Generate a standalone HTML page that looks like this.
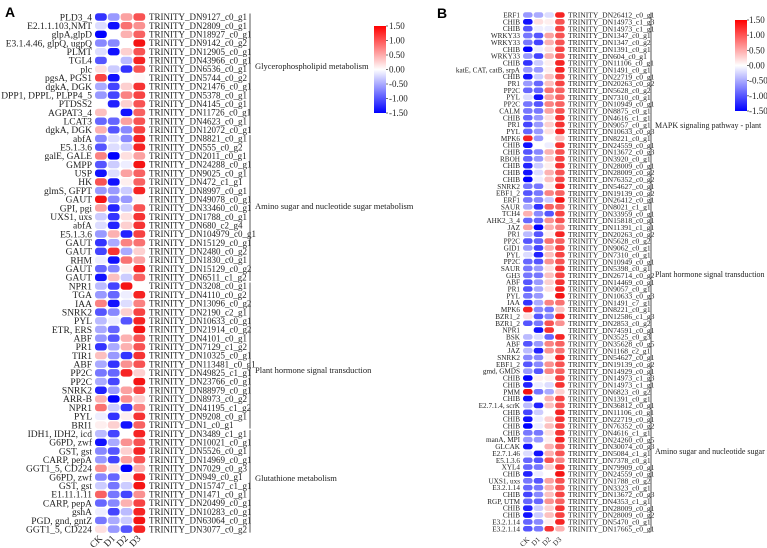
<!DOCTYPE html>
<html><head><meta charset="utf-8">
<style>
html,body{margin:0;padding:0;background:#fff;}
svg{display:block;font-family:"Liberation Serif",serif;}
</style></head>
<body>
<svg id="fig" width="767" height="548" viewBox="0 0 767 548" xmlns="http://www.w3.org/2000/svg">
<defs>
<linearGradient id="cbar" x1="0" y1="1" x2="0" y2="0">
<stop offset="0" stop-color="#0000ff"/><stop offset="0.5" stop-color="#ffffff"/><stop offset="1" stop-color="#ff0000"/>
</linearGradient>
</defs>
<text x="5" y="17" font-family="Liberation Sans,sans-serif" font-weight="bold" font-size="14">A</text>
<text x="437" y="18" font-family="Liberation Sans,sans-serif" font-weight="bold" font-size="14">B</text>
</svg>
<script>
const columns = ["CK","D1","D2","D3"];
const genesA = ["PLD3_4","E2.1.1.103,NMT","glpA,glpD","E3.1.4.46, glpQ, ugpQ","PLMT","TGL4","plc","pgsA, PGS1","dgkA, DGK","DPP1, DPPL, PLPP4_5","PTDSS2","AGPAT3_4","LCAT3","dgkA, DGK","abfA","E5.1.3.6","galE, GALE","GMPP","USP","HK","glmS, GFPT","GAUT","GPI, pgi","UXS1, uxs","abfA","E5.1.3.6","GAUT","GAUT","RHM","GAUT","GAUT","NPR1","TGA","IAA","SNRK2","PYL","ETR, ERS","ABF","PR1","TIR1","ABF","PP2C","PP2C","SNRK2","ARR-B","NPR1","PYL","BRI1","IDH1, IDH2, icd","G6PD, zwf","GST, gst","CARP, pepA","GGT1_5, CD224","G6PD, zwf","GST, gst","E1.11.1.11","CARP, pepA","gshA","PGD, gnd, gntZ","GGT1_5, CD224"];
const idsA = ["DN9127_c0_g1","DN2809_c0_g1","DN18927_c0_g1","DN9142_c0_g2","DN12905_c0_g1","DN43966_c0_g1","DN6536_c0_g1","DN5744_c0_g2","DN21476_c0_g1","DN5378_c0_g1","DN4145_c0_g1","DN11726_c0_g1","DN4623_c0_g1","DN12072_c0_g1","DN8821_c0_g1","DN555_c0_g2","DN2011_c0_g1","DN24288_c0_g1","DN9025_c0_g1","DN472_c1_g1","DN8997_c0_g1","DN49078_c0_g1","DN33460_c0_g1","DN1788_c0_g1","DN680_c2_g4","DN104979_c0_g1","DN15129_c0_g1","DN2480_c0_g2","DN1830_c0_g1","DN15129_c0_g2","DN6511_c1_g2","DN3208_c0_g1","DN4110_c0_g2","DN13096_c0_g2","DN2190_c2_g1","DN10633_c0_g1","DN21914_c0_g2","DN4101_c0_g1","DN7129_c1_g2","DN10325_c0_g1","DN113481_c0_g1","DN49825_c1_g1","DN23766_c0_g1","DN88979_c0_g1","DN8973_c0_g2","DN41195_c1_g2","DN9208_c0_g1","DN1_c0_g1","DN3489_c1_g1","DN10021_c0_g1","DN5526_c0_g1","DN14969_c0_g1","DN7029_c0_g3","DN949_c0_g1","DN15747_c1_g1","DN1471_c0_g1","DN20499_c0_g1","DN10283_c0_g1","DN63064_c0_g1","DN3077_c0_g2"];
const valuesA = [
[-1.2,-0.6,0.6,1.1],[-0.2,-1.4,0.9,0.7],[-1.5,0,0.5,1.0],[-0.7,-0.7,0,1.5],[-0.2,-1.4,0.3,1.1],[-1.0,0,-0.4,1.4],[0.2,-0.3,-1.2,1.1],[1.2,-1.4,0,0.05],[-0.5,-1.1,0.3,1.3],[-0.6,-1.1,0.8,1.2],
[0,-1.3,0.3,1.1],[0.4,0,-1.4,1.0],[-0.9,-0.9,0.6,1.1],[0.5,-1.0,-0.7,1.2],[-0.7,-0.2,-0.7,1.4],[-1.0,-0.2,-0.3,1.4],[0.8,-1.5,0.2,0.6],[-1.0,-0.3,-0.1,1.5],[-1.4,-0.2,0.6,1.0],[1.1,-1.4,0.1,1.0],
[-0.6,-0.6,-0.3,1.4],[1.5,-0.7,-0.6,0.05],[0.6,-1.3,-0.3,1.1],[-0.3,-1.2,0.2,1.3],[-0.2,-1.3,0.3,1.3],[-0.6,0.5,-1.3,1.2],[-1.2,-0.5,0.8,0.9],[-1.1,1.3,-0.5,0.3],[-0.1,-1.4,0.9,0.6],[-0.9,-0.7,0.1,1.4],
[-1.4,0.4,-0.3,1.0],[-0.4,-1.1,1.5,0],[-0.6,-0.9,-0.1,1.4],[0.8,-1.4,-0.2,0.8],[-1.0,-0.7,0.3,1.2],[-0.4,-0.1,-1.0,1.4],[-0.5,-0.9,0,1.5],[-0.6,-1.0,0.5,1.1],[-1.2,-0.5,0.5,1.1],[0.4,-0.6,-1.2,1.3],
[-0.5,-1.2,0.7,1.1],[-0.8,-0.9,1.4,0.3],[-0.5,-1.1,0,1.5],[-1.3,-0.6,0.6,1.2],[0.5,-1.5,0.7,0.3],[0.9,-0.3,-1.2,0.8],[-0.1,-1.2,0.1,1.3],[0.1,0.3,-1.4,1.0],[-0.4,-1.1,0,1.4],[-1.4,-0.5,0.7,1.1],
[-0.7,-1.0,0.3,1.4],[-0.6,-1.1,0.6,1.1],[0.7,0.2,-1.5,0.5],[-0.7,-0.9,0.1,1.4],[-0.3,-0.8,-0.3,1.5],[1.0,-0.8,-1.1,0.7],[-0.9,-0.7,0.5,1.2],[-0.1,-1.1,-0.4,1.4],[-0.8,-0.5,-0.3,1.5],[0.2,-0.6,-1.0,1.4]];
const groupNamesA = ["Glycerophospholipid metabolism","Amino sugar and nucleotide sugar metabolism","Plant hormone signal transduction","Glutathione metabolism"];
const groupStartA = [0,14,31,48];
const groupEndA = [13,30,47,59];

const genesB = ["ERF1","CHIB","CHIB","WRKY33","WRKY33","CHIB","WRKY33","CHIB","katE, CAT, catB, srpA","CHIB","PR1","PP2C","PYL","PP2C","CALM","CHIB","PR1","PYL","MPK6","CHIB","CHIB","RBOH","CHIB","CHIB","CHIB","SNRK2","EBF1_2","ERF1","SAUR","TCH4","AHK2_3_4","JAZ","PR1","PP2C","GID1","PYL","PP2C","SAUR","GH3","ABF","PR1","PYL","IAA","MPK6","BZR1_2","BZR1_2","NPR1","BSK","ABF","JAZ","SNRK2","EBF1_2","gmd, GMDS","CHIB","CHIB","PMM","CHIB","E2.7.1.4, scrK","CHIB","CHIB","CHIB","CHIB","manA, MPI","GLCAK","E2.7.1.46","E5.1.3.6","XYL4","CHIB","UXS1, uxs","E3.2.1.14","CHIB","RGP, UTM","CHIB","CHIB","E3.2.1.14","E3.2.1.14"];
const idsB = ["DN26412_c0_g1","DN14973_c1_g3","DN14973_c1_g1","DN1347_c0_g1","DN1347_c0_g2","DN1391_c0_g1","DN604_c0_g1","DN11106_c0_g1","DN1491_c0_g1","DN22719_c0_g1","DN20263_c0_g2","DN5628_c0_g2","DN7310_c0_g1","DN10949_c0_g1","DN8875_c0_g1","DN4616_c1_g1","DN9057_c0_g1","DN10633_c0_g3","DN8221_c0_g1","DN24559_c0_g1","DN13672_c0_g3","DN3920_c0_g1","DN28009_c0_g1","DN28009_c0_g2","DN76352_c0_g2","DN54627_c0_g1","DN19139_c0_g2","DN26412_c0_g1","DN8021_c1_g1","DN33959_c0_g1","DN15818_c0_g1","DN11391_c1_g1","DN20263_c0_g2","DN5628_c0_g2","DN9062_c0_g1","DN7310_c0_g1","DN10949_c0_g1","DN5398_c0_g1","DN26714_c0_g2","DN14469_c0_g1","DN9057_c0_g1","DN10633_c0_g3","DN1491_c7_g1","DN8221_c0_g1","DN12586_c1_g3","DN2853_c0_g2","DN74591_c0_g1","DN3525_c0_g3","DN35628_c0_g5","DN1168_c2_g1","DN54627_c0_g1","DN19139_c0_g2","DN14929_c0_g1","DN14973_c1_g3","DN14973_c1_g1","DN6823_c0_g2","DN1391_c0_g1","DN36812_c0_g1","DN11106_c0_g1","DN22719_c0_g1","DN76352_c0_g2","DN4616_c1_g1","DN24260_c0_g5","DN30074_c0_g3","DN5084_c1_g1","DN7378_c0_g1","DN79909_c0_g1","DN24559_c0_g1","DN1788_c0_g2","DN3323_c0_g1","DN13672_c0_g3","DN4353_c1_g1","DN28009_c0_g1","DN28009_c0_g2","DN5470_c0_g1","DN17665_c0_g1"];
const valuesB = [
[-0.6,-0.5,-0.2,1.4],[-1.4,0.2,0.1,1.1],[-1.0,-0.1,-0.1,1.2],[-0.8,-1.0,0.6,1.1],[-0.8,-1.1,0.5,1.1],[-1.5,-0.1,0.2,1.2],[-0.6,-1.1,0.5,1.1],[-1.2,-0.3,0.1,1.4],[-0.6,-0.6,0.1,1.4],[-1.4,-0.3,0.4,1.2],
[-0.6,-0.9,0.4,1.2],[-0.9,-0.9,0.9,1.0],[-0.2,-1.4,0.6,1.0],[-0.8,-1.0,0.8,1.0],[-0.8,-0.8,0.6,1.1],[-0.9,-0.6,0.2,1.3],[-1.1,-0.6,0.3,1.3],[-0.9,-0.6,0.2,1.4],[1.4,-0.6,0,0.4],[-1.4,0,-0.1,1.3],
[-1.0,-0.7,0.5,1.1],[-0.9,-0.6,0.3,1.2],[-1.3,-0.3,0.1,1.3],[-1.4,-0.2,0.5,1.1],[-1.5,-0.1,0.4,1.2],[-0.8,-0.8,0.1,1.4],[-1.0,-0.8,0.8,1.0],[-0.8,-0.7,-0.3,1.5],[-0.5,-1.2,1.0,1.0],[0.5,-0.7,-1.0,1.2],
[-0.9,-0.9,0.7,1.1],[0.6,-1.5,0.5,0.8],[-0.4,-1.0,0.1,1.4],[-1.0,-0.9,0.9,1.0],[-0.6,-1.1,0.5,1.2],[-0.2,-1.3,0.4,1.2],[-0.9,-1.0,0.7,1.1],[-0.8,-0.6,0.2,1.3],[-0.8,-0.8,0.4,1.2],[-1.0,-0.6,0.3,1.3],
[-1.0,-0.5,0.2,1.4],[-0.8,-0.6,0,1.5],[-1.2,-0.5,0.8,0.9],[1.4,-0.7,-0.8,0.4],[0.2,-1.0,-0.7,1.4],[-1.0,-0.8,1.1,0.7],[0,-1.4,1.3,0],[-0.4,-0.2,-0.9,1.4],[-1.0,-0.6,0.8,1.0],[-0.4,-1.3,0.7,0.9],
[-0.7,-0.7,0.1,1.4],[-1.0,-0.7,0.7,1.1],[-0.6,-1.0,0.8,1.0],[-1.5,0.1,0.1,1.2],[-1.3,-0.1,-0.2,1.3],[1.5,-0.8,-0.5,0.3],[-1.4,0,0.5,1.2],[-0.4,-1.3,0.4,1.1],[-1.1,-0.3,0,1.4],[-1.4,-0.1,0.3,1.3],
[-1.5,-0.1,0.4,1.2],[-0.8,-0.8,0.2,1.3],[-0.6,-0.6,0.1,1.4],[-1.4,0,0.5,1.1],[-0.2,-1.4,0.5,1.1],[-0.9,-1.0,1.1,0.8],[-0.9,-0.8,0.3,1.3],[-1.3,-0.1,0,1.5],[-0.8,-1.0,0.6,1.1],[-0.9,-0.8,0.5,1.1],
[-1.1,-0.7,0.4,1.2],[-0.9,-0.9,0.7,1.0],[-1.3,-0.3,0.3,1.3],[-1.4,-0.3,0.4,1.2],[-0.9,-0.7,0.1,1.4],[-1.0,-0.8,1.3,0.5]];
const groupNamesB = ["MAPK signaling pathway - plant","Plant hormone signal transduction","Amino sugar and nucleotide sugar metabolism"];
const groupStartB = [0,27,51];
const groupEndB = [26,50,75];
const groupLabelYB = [128,277,454];
const groupLabelYA = [69,209,373,481];
const colorTicks = ["1.50","1.00","0.50","0.00","-0.50","-1.00","-1.50"];

const NS = "http://www.w3.org/2000/svg";
const svg = document.getElementById('fig');
function mk(tag, attrs, parent){const e=document.createElementNS(NS,tag);for(const k in attrs)e.setAttribute(k,attrs[k]);(parent||svg).appendChild(e);return e;}
function color(v){
  const t=Math.max(-1.5,Math.min(1.5,v))/1.5;
  let r,g,b;
  if(t>=0){r=Math.round(255-10*t);g=Math.round(255*(1-t)+20*t);b=g;}
  else{const s=-t;r=Math.round(255*(1-s));g=r;b=255;}
  return `rgb(${r},${g},${b})`;
}
function panel(cfg){
  const {genes,ids,values,x0,pitchX,cw,y0,pitchY,ch,labelX,idX,fs,idfs,prefix,colY} = cfg;
  const rowY = i => y0 + i*pitchY;
  const colX = j => x0 + j*pitchX;
  const g = mk('g',{});
  
  
  values.forEach((row,i)=>{
    const lab = mk('text',{x:labelX,y:rowY(i)+fs*0.35,'font-size':fs,'text-anchor':'end',fill:'#222'},g);
    lab.textContent = genes[i];
    
    
    row.forEach((v,j)=>{
      const r = mk('rect',{x:colX(j),y:rowY(i)-ch/2,width:cw,height:ch,rx:Math.min(3,ch/2.2),fill:color(v)},g);
      
      
    });
    const id = mk('text',{x:idX,y:rowY(i)+idfs*0.35,'font-size':idfs,fill:'#222'},g);
    id.textContent = 'TRINITY_'+ids[i];
    
    
  });
  columns.forEach((c,j)=>{
    const cx = colX(j)+cw/2+2, cy = colY;
    const t = mk('text',{x:cx,y:cy,'font-size':fs,'text-anchor':'end',transform:`rotate(-45 ${cx} ${cy})`,fill:'#222'},g);
    t.textContent = c;
    
    
  });
  return {rowY};
}
const A = panel({genes:genesA,ids:idsA,values:valuesA,x0:95,pitchX:12.8,cw:11.8,y0:17,pitchY:8.68,ch:7.4,labelX:92,idX:149,fs:9.5,idfs:9,prefix:'panel-a',colY:539});
const B = panel({genes:genesB,ids:idsB,values:valuesB,x0:523,pitchX:10.7,cw:9.6,y0:15,pitchY:6.85,ch:5.6,labelX:520,idX:568,fs:7.2,idfs:7.6,prefix:'panel-b',colY:540});

function groups(names,starts,ends,rowY,half,lineX,labelX,labelYs,fs){
  names.forEach((n,k)=>{
    const y1=rowY(starts[k])-half+0.8, y2=rowY(ends[k])+half-0.8;
    const l = mk('line',{x1:lineX,x2:lineX,y1:y1,y2:y2,stroke:'#555','stroke-width':1});
    
    
    const t = mk('text',{x:labelX,y:labelYs[k],'font-size':fs,fill:'#222'});
    t.textContent = n;
    
    
  });
}
groups(groupNamesA,groupStartA,groupEndA,A.rowY,4.34,250,255,groupLabelYA,8.5);
groups(groupNamesB,groupStartB,groupEndB,B.rowY,3.42,651,655,groupLabelYB,8);

function colorbar(x,y,w,h,lx,name){
  const r = mk('rect',{x:x,y:y,width:w,height:h,fill:'url(#cbar)'});
  
  
  colorTicks.forEach((t,i)=>{
    const ty = y + i*h/(colorTicks.length-1);
    mk('line',{x1:x+w,x2:x+w+2,y1:ty,y2:ty,stroke:'#333','stroke-width':0.7});
    const tx = mk('text',{x:lx,y:ty+3,'font-size':9,fill:'#222'});
    tx.textContent = t;
    
    
  });
}
colorbar(374,26,12,87,389,'colorbar-a');
colorbar(735,20,12,91,749,'colorbar-b');
</script>
</body></html>
